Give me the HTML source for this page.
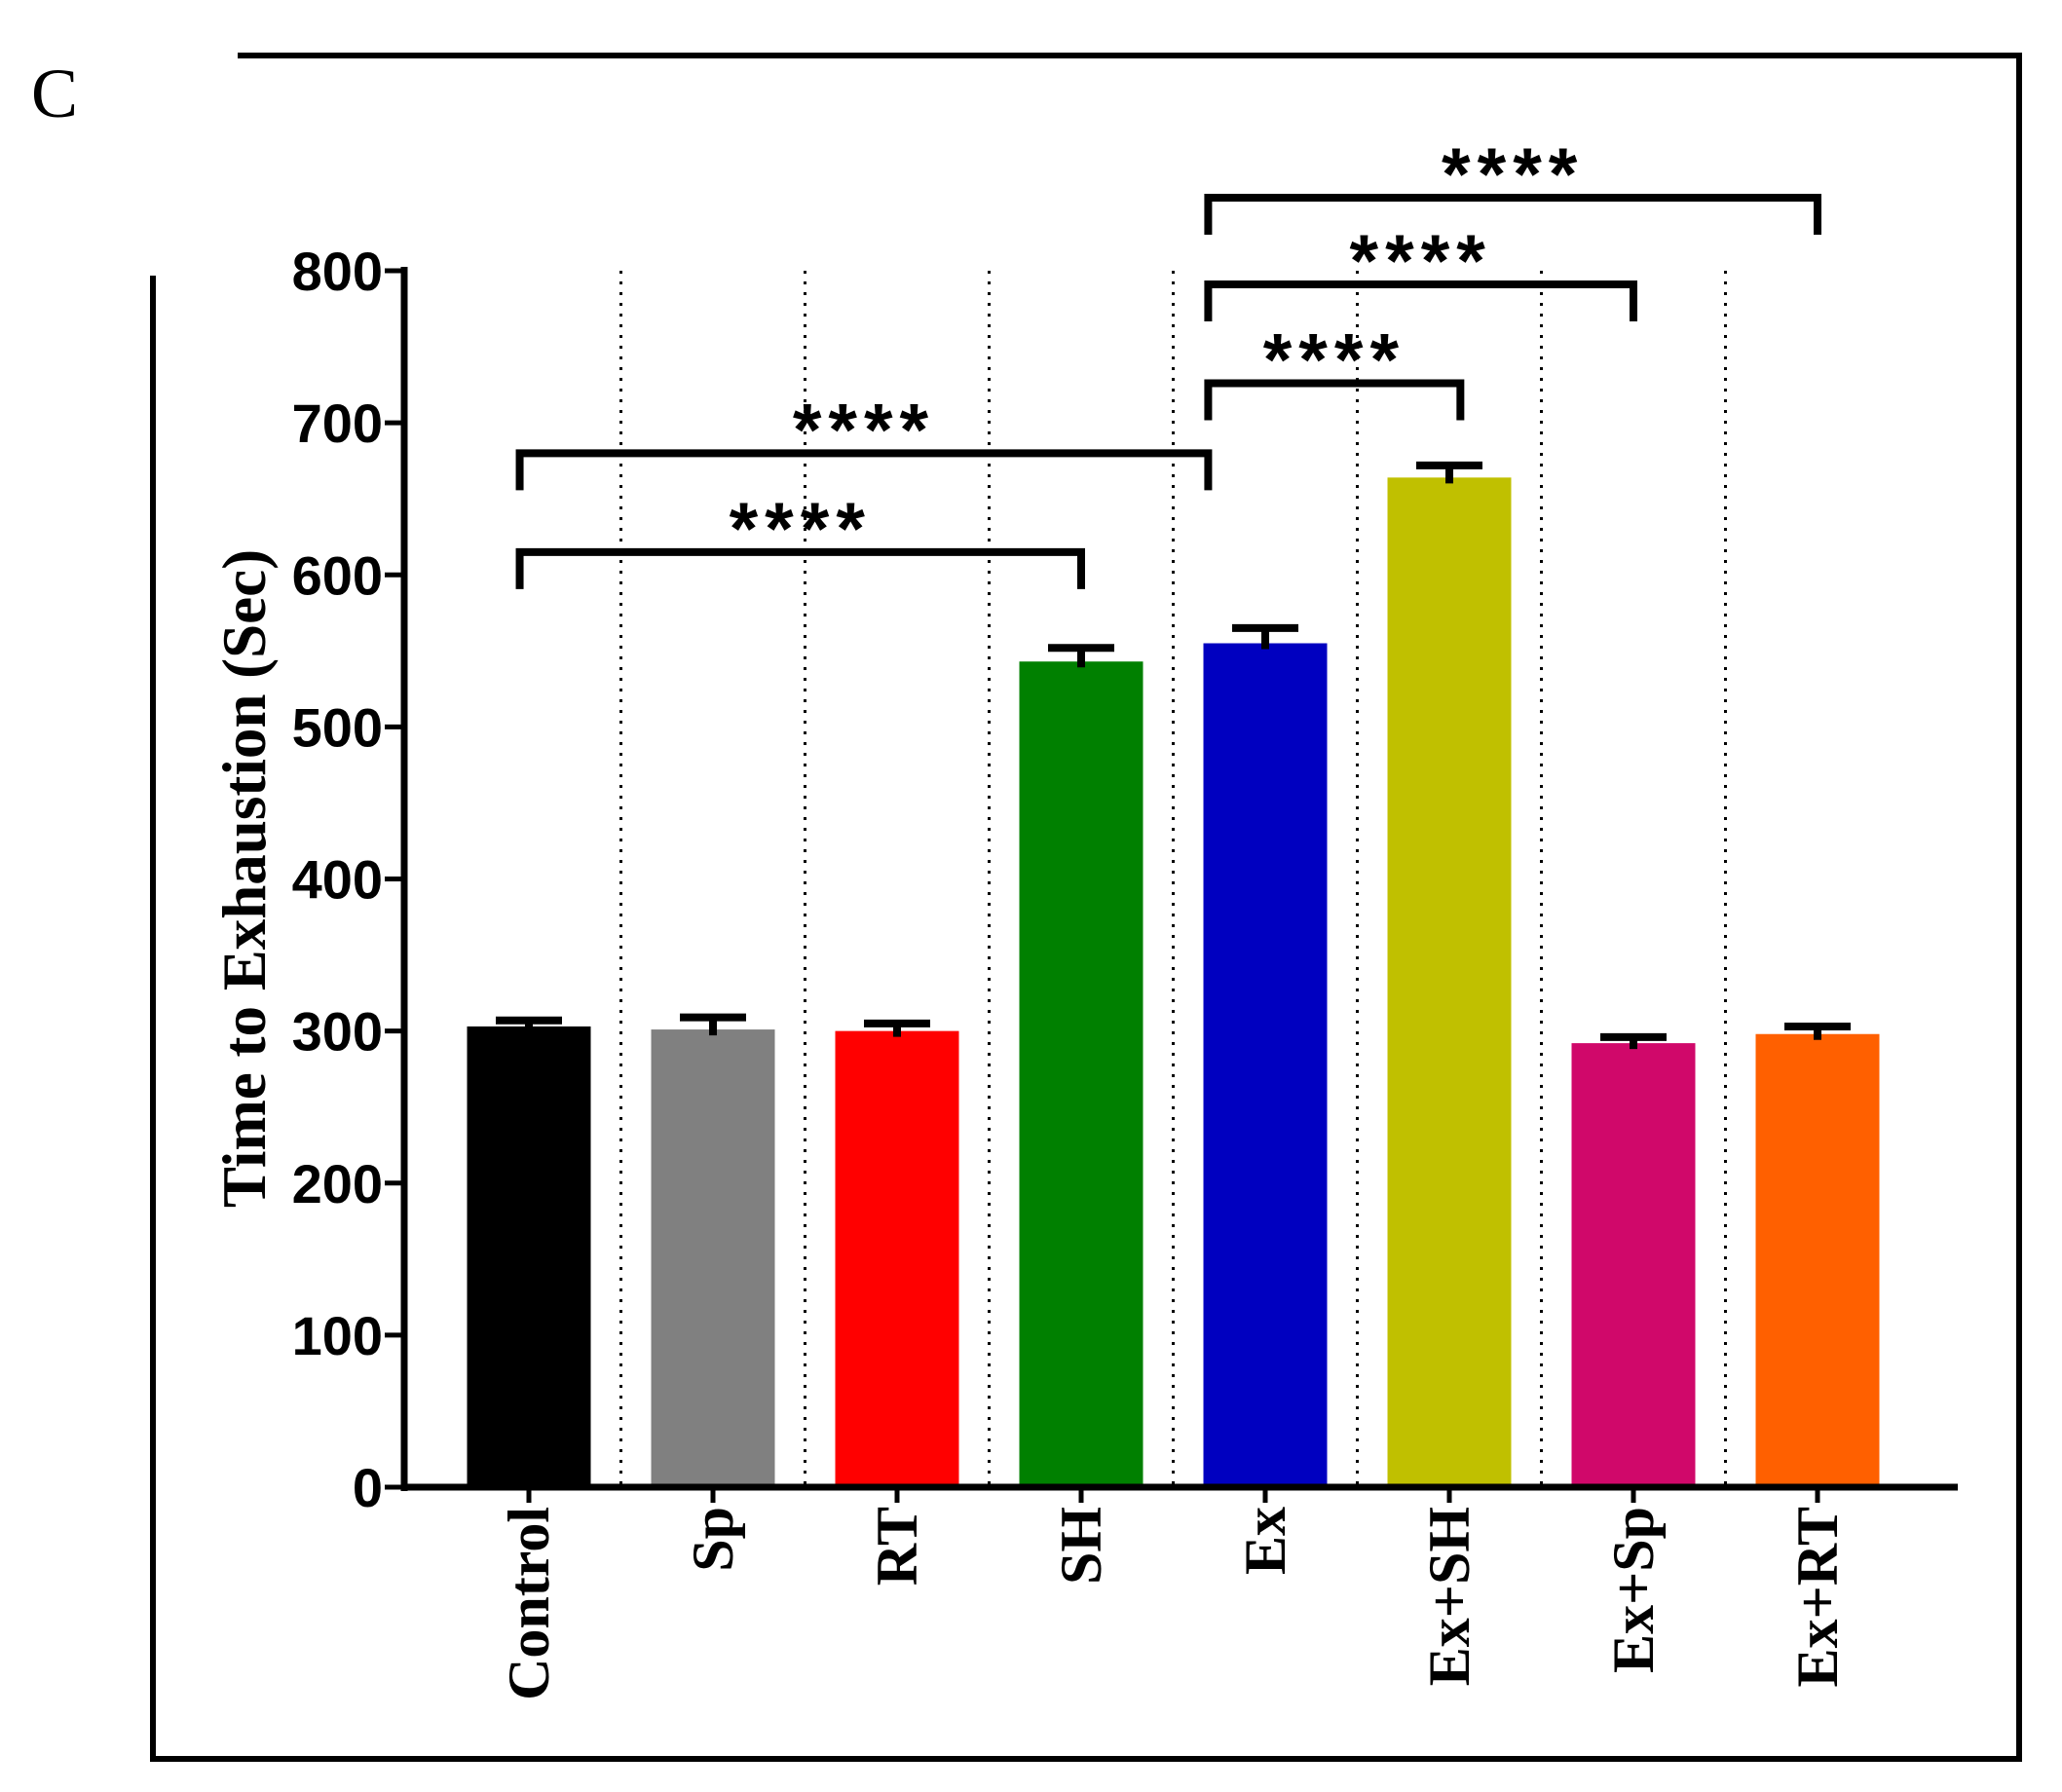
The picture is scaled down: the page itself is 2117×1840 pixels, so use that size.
<!DOCTYPE html>
<html><head><meta charset="utf-8"><style>
html,body{margin:0;padding:0;background:#fff;}
svg{display:block;}
</style></head><body>
<svg id="chart" width="2117" height="1840" viewBox="0 0 2117 1840" xmlns="http://www.w3.org/2000/svg">
<g stroke="#000" stroke-width="6" fill="none">
<polyline points="244,57 2073,57 2073,1806 157,1806 157,283"/>
</g>
<text x="32" y="120" font-family="Liberation Serif, serif" font-size="72">C</text>
<g id="plot"></g>
</svg>
<script>
const categories = ["Control","Sp","RT","SH","Ex","Ex+SH","Ex+Sp","Ex+RT"];
const values = [303,301,300,543,555,664,292,298];
const errors = [4,8,5,9,10,8,4,5];
const colors = ["#000000","#808080","#ff0000","#008000","#0000c0","#c0c000","#d0086a","#ff6000"];
const yTicks = [0,100,200,300,400,500,600,700,800];
// [from index, to index, height value, from offset (fraction of step), to offset]
const brackets = [[0,4,680,-0.05,-0.31],[0,3,615,-0.05,0],[4,5,726,-0.31,0.06],[4,6,791,-0.31,0],[4,7,848,-0.31,0]];
const bracketLabels = ["****","****","****","****","****"];

const NS="http://www.w3.org/2000/svg";
const g=document.getElementById('plot');
const X0=415, Y0=1527, Ytop=278, step=189, first=543, bw=127;
function y(v){return Y0-(v/800)*(Y0-Ytop);}
function x(i){return first+i*step;}
function mk(t,a,p){const e=document.createElementNS(NS,t);for(const k in a)e.setAttribute(k,a[k]);(p||g).appendChild(e);return e;}

for(let i=0;i<categories.length-1;i++){
  const l=mk('line',{x1:x(i)+step/2,x2:x(i)+step/2,y1:y(800),y2:Y0,stroke:'#000','stroke-width':3,'stroke-dasharray':'3 8'});
  
  
}
categories.forEach((c,i)=>{
  const r=mk('rect',{x:x(i)-bw/2,y:y(values[i]),width:bw,height:Y0-y(values[i]),fill:colors[i]});
  
  
  const eb=mk('path',{d:`M${x(i)-34},${y(values[i]+errors[i])}H${x(i)+34}M${x(i)},${y(values[i]+errors[i])}V${y(values[i])+6}`,stroke:'#000','stroke-width':8,fill:'none'});
  
  
  const tk=mk('line',{x1:x(i),x2:x(i),y1:Y0,y2:Y0+16,stroke:'#000','stroke-width':5});
  
  
  const t=mk('text',{transform:`translate(${x(i)+20},${Y0+20}) rotate(-90)`,'text-anchor':'end','font-family':'Liberation Serif, serif','font-weight':'bold','font-size':60});
  t.textContent=c;
  
  
});
const ya=mk('line',{x1:X0,x2:X0,y1:Ytop-4,y2:Y0+4,stroke:'#000','stroke-width':7});


const xa=mk('line',{x1:X0,x2:2010,y1:Y0,y2:Y0,stroke:'#000','stroke-width':7});


yTicks.forEach(v=>{
  const l=mk('line',{x1:X0-20,x2:X0,y1:y(v),y2:y(v),stroke:'#000','stroke-width':5});
  
  
  const t=mk('text',{x:X0-22,y:y(v)+20,'text-anchor':'end','font-family':'Liberation Sans, sans-serif','font-weight':'bold','font-size':56});
  t.textContent=v;
  
  
});
const yt=mk('text',{transform:'translate(272,902) rotate(-90)','text-anchor':'middle','font-family':'Liberation Serif, serif','font-weight':'bold','font-size':63});
yt.textContent='Time to Exhaustion (Sec)';


brackets.forEach((b,k)=>{
  const [a,c,v,oa,oc]=b, yy=y(v), leg=y(v)+38;
  const xa1=x(a)+oa*step, xc1=x(c)+oc*step;
  const p=mk('path',{d:`M${xa1},${leg}V${yy}H${xc1}V${leg}`,stroke:'#000','stroke-width':8,fill:'none'});
  
  
  const t=mk('text',{x:(xa1+xc1)/2,y:yy+2,'text-anchor':'middle','font-family':'Liberation Sans, sans-serif','font-weight':'bold','font-size':76,'letter-spacing':'7'});
  t.textContent=bracketLabels[k];
  
  
});
</script>
</body></html>
